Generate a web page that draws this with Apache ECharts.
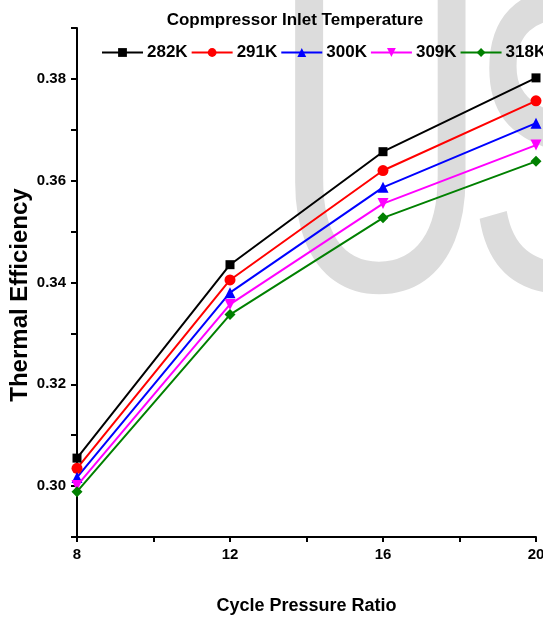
<!DOCTYPE html>
<html><head><meta charset="utf-8">
<script src="https://cdn.jsdelivr.net/npm/echarts@6/dist/echarts.min.js"></script>
<style>html,body{margin:0;padding:0;background:#fff}#c{width:543px;height:621px}</style>
</head><body><div id="c"></div>
<script>
const pressureRatios = [8, 12, 16, 20];
const seriesNames = ['282K', '291K', '300K', '309K', '318K'];
const eff282 = [0.3055, 0.3435, 0.3657, 0.3802];
const eff291 = [0.3035, 0.3405, 0.3620, 0.3757];
const eff300 = [0.3017, 0.3380, 0.3587, 0.3713];
const eff309 = [0.3001, 0.3357, 0.3555, 0.3670];
const eff318 = [0.2989, 0.3337, 0.3527, 0.3638];
const yTickLabels = ['0.30', '0.32', '0.34', '0.36', '0.38'];
const xTickLabels = ['8', '12', '16', '20'];

const valuesList = [eff282, eff291, eff300, eff309, eff318];
const colors = ['#000000', '#ff0000', '#0000ff', '#ff00ff', '#008000'];
const symbols = ['rect', 'circle', 'triangle', 'triangle', 'diamond'];
const rotates = [0, 0, 0, 180, 0];
const sizes = [9, 11, 11, 11, 11];
const FN = '"Liberation Sans", Arial, sans-serif';

const chart = echarts.init(document.getElementById('c'), null, {renderer: 'canvas'});
chart.setOption({
  animation: false,
  backgroundColor: '#fff',
  graphic: [{
    type: 'text', x: 272, y: 171, scaleY: 1.44, z: -10, silent: true,
    style: {text: 'U', fontSize: 300, fontFamily: FN, fill: '#dcdcdc', verticalAlign: 'middle', align: 'left'}
  }, {
    type: 'text', x: 466, y: 171, scaleY: 1.44, z: -10, silent: true,
    style: {text: 'S', fontSize: 300, fontFamily: FN, fill: '#dcdcdc', verticalAlign: 'middle', align: 'left'}
  }, {
    type: 'text', x: 20, y: 295, rotation: Math.PI / 2, silent: true,
    style: {text: 'Thermal Efficiency', fontSize: 24, fontWeight: 'bold', fontFamily: FN, fill: '#000', align: 'center', verticalAlign: 'middle'}
  }],
  title: {
    text: 'Copmpressor Inlet Temperature', left: 290, top: 7, textAlign: 'center',
    textStyle: {fontFamily: FN, fontWeight: 'bold', fontSize: 17, color: '#000'}
  },
  legend: {
    left: 96, top: 39, width: 447, itemWidth: 41, itemHeight: 11, itemGap: 3,
    data: seriesNames,
    textStyle: {fontFamily: FN, fontWeight: 'bold', fontSize: 17, color: '#000', padding: [0, 0, 0, -1]}
  },
  grid: {left: 77, right: 7, top: 28, bottom: 84, containLabel: false, outerBoundsMode: 'none'},
  xAxis: {
    type: 'value', min: 8, max: 20, interval: 2,
    name: 'Cycle Pressure Ratio', nameLocation: 'middle', nameGap: 60,
    nameTextStyle: {fontFamily: FN, fontWeight: 'bold', fontSize: 18, color: '#000'},
    axisLine: {lineStyle: {color: '#000', width: 2}},
    axisTick: {lineStyle: {color: '#000', width: 2}, length: 5},
    splitLine: {show: false},
    axisLabel: {
      fontFamily: FN, fontWeight: 'bold', fontSize: 15, color: '#000', margin: 10,
      formatter: v => xTickLabels.includes(String(v)) ? String(v) : ''
    }
  },
  yAxis: {
    type: 'value', min: 0.29, max: 0.39, interval: 0.01,
    axisLine: {lineStyle: {color: '#000', width: 2}},
    axisTick: {lineStyle: {color: '#000', width: 2}, length: 6},
    splitLine: {show: false},
    axisLabel: {
      fontFamily: FN, fontWeight: 'bold', fontSize: 15, color: '#000', margin: 11,
      formatter: v => { const s = v.toFixed(2); return yTickLabels.includes(s) ? s : ''; }
    }
  },
  series: seriesNames.map((n, i) => ({
    name: n, type: 'line',
    data: pressureRatios.map((x, j) => [x, valuesList[i][j]]),
    symbol: symbols[i], symbolRotate: rotates[i], symbolSize: sizes[i],
    showAllSymbol: true,
    lineStyle: {color: colors[i], width: 2},
    itemStyle: {color: colors[i]},
    clip: false
  }))
});
</script></body></html>
